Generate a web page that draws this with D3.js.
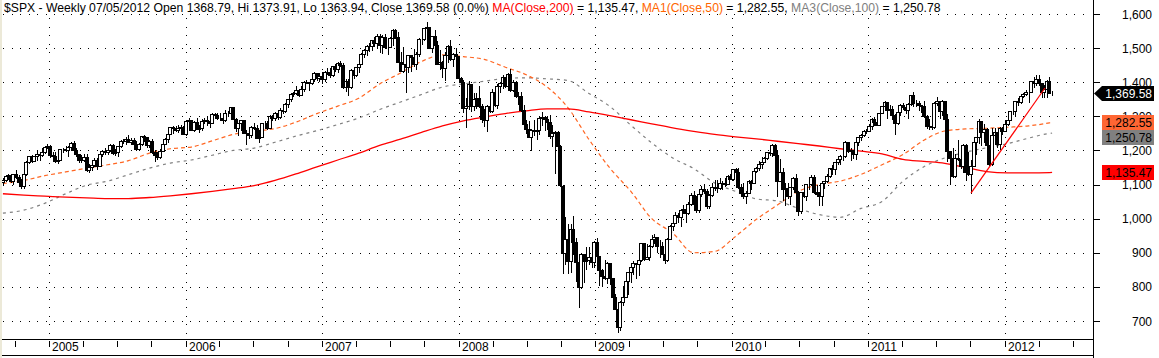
<!DOCTYPE html>
<html><head><meta charset="utf-8">
<script src="https://cdn.jsdelivr.net/npm/d3@7"></script>
<style>
html,body{margin:0;padding:0;background:#fff;overflow:hidden}
svg{display:block;font-family:"Liberation Sans",Arial,sans-serif}
</style></head><body>
<svg id="c" width="1159" height="358"></svg>
<script>
// ---------------- DATA ----------------
const firstWeek = "2004-08-30";   // Monday of the first weekly bar
const opens = [
/*2004*/1108,1114,1124,1129,1110,1132,1122,1108,1096,1130,1166,1184,1170,1183,1191,1188,1194,1210,
/*2005*/1212,1186,1185,1168,1171,1203,1205,1202,1211,1222,1200,1190,1171,1173,1181,1143,1152,1157,1171,1154,1189,1199,1196,1201,1217,1192,1194,1212,1228,1229,1234,1226,1230,1220,1205,1218,1241,1238,1215,1229,1196,1187,1180,1198,1220,1235,1248,1268,1265,1259,1267,1269,
/*2006*/1248,1285,1288,1261,1284,1264,1267,1287,1289,1287,1281,1307,1303,1295,1296,1289,1311,1311,1326,1291,1267,1280,1288,1252,1252,1245,1270,1265,1236,1240,1279,1279,1267,1302,1295,1311,1299,1320,1315,1336,1350,1366,1369,1377,1364,1381,1401,1401,1397,1410,1427,1411,
/*2007*/1418,1410,1431,1431,1422,1448,1438,1456,1451,1387,1403,1387,1436,1421,1444,1453,1484,1494,1506,1506,1523,1516,1536,1508,1533,1503,1503,1530,1553,1534,1459,1433,1454,1446,1479,1474,1454,1484,1526,1527,1558,1562,1501,1535,1510,1454,1459,1441,1481,1505,1468,1484,
/*2008*/1478,1412,1401,1325,1331,1395,1331,1350,1353,1331,1293,1288,1330,1315,1370,1333,1390,1398,1414,1388,1425,1376,1400,1361,1360,1318,1278,1263,1239,1261,1258,1260,1296,1298,1292,1283,1242,1252,1255,1213,1097,899,941,877,969,931,873,800,896,876,880,888,
/*2009*/873,932,890,850,832,826,869,827,770,735,683,757,769,816,843,857,870,866,878,929,883,887,919,940,946,921,919,896,879,940,979,987,1010,1004,1026,1029,1016,1043,1068,1044,1025,1071,1088,1080,1036,1069,1093,1091,1091,1106,1106,1102,1126,
/*2010*/1115,1145,1136,1092,1074,1066,1076,1109,1104,1139,1150,1160,1167,1178,1194,1192,1217,1187,1111,1136,1088,1089,1065,1092,1118,1077,1023,1078,1065,1103,1102,1122,1079,1072,1065,1105,1110,1126,1149,1146,1165,1176,1183,1183,1226,1199,1200,1189,1225,1240,1244,1257,
/*2011*/1258,1272,1293,1283,1276,1311,1329,1343,1320,1321,1304,1279,1314,1332,1328,1320,1337,1364,1340,1338,1333,1331,1300,1271,1272,1268,1340,1344,1316,1345,1292,1199,1179,1124,1177,1174,1154,1216,1136,1131,1155,1225,1238,1285,1253,1264,1216,1159,1244,1255,1220,1265,
/*2012*/1258,1278,1289,1315,1316,1345,1343,1361,1366,1370,1371,1404,1397,1408,1398,1370,1379,1403,1368.79];
const highs = [
/*2004*/1120,1125,1130,1131,1132,1143,1127,1115,1131,1168,1185,1188,1183,1197,1194,1206,1214,1218,
/*2005*/1217,1196,1195,1180,1205,1208,1212,1212,1225,1229,1206,1191,1187,1191,1190,1159,1164,1178,1178,1192,1200,1206,1206,1220,1220,1204,1212,1230,1235,1238,1245,1237,1236,1228,1223,1243,1245,1240,1232,1234,1200,1195,1205,1224,1236,1249,1270,1272,1272,1276,1275,1273,
/*2006*/1290,1295,1289,1286,1295,1274,1293,1295,1300,1290,1310,1310,1310,1310,1300,1318,1316,1327,1326,1296,1280,1290,1290,1260,1258,1272,1280,1274,1260,1280,1287,1286,1304,1303,1312,1315,1323,1330,1340,1350,1367,1372,1389,1381,1389,1403,1407,1402,1416,1430,1428,1427,
/*2007*/1430,1432,1441,1441,1449,1453,1458,1462,1456,1410,1409,1439,1437,1445,1453,1485,1498,1510,1514,1523,1533,1540,1540,1538,1540,1514,1533,1556,1556,1547,1488,1504,1466,1481,1481,1496,1489,1530,1534,1558,1576,1563,1536,1553,1520,1493,1463,1488,1508,1523,1485,1499,
/*2008*/1478,1416,1406,1355,1405,1396,1368,1368,1388,1335,1321,1334,1360,1380,1381,1395,1400,1422,1416,1426,1440,1406,1405,1370,1370,1334,1290,1285,1263,1290,1284,1297,1314,1300,1301,1304,1274,1256,1256,1215,1098,1006,985,984,1007,943,873,897,897,918,918,888,
/*2009*/935,943,891,852,878,872,870,827,780,735,759,803,832,845,857,876,871,888,930,930,925,923,951,956,946,936,931,898,943,980,996,1019,1016,1027,1040,1029,1049,1074,1080,1065,1076,1097,1101,1087,1071,1105,1113,1112,1120,1110,1120,1128,1130,
/*2010*/1146,1150,1150,1103,1105,1081,1112,1112,1140,1151,1169,1181,1181,1195,1214,1218,1220,1197,1174,1148,1104,1105,1092,1121,1131,1080,1078,1100,1103,1120,1129,1129,1100,1077,1105,1111,1131,1149,1158,1167,1184,1186,1197,1227,1226,1207,1200,1225,1240,1247,1259,1263,
/*2011*/1277,1294,1297,1302,1311,1330,1345,1343,1333,1331,1306,1315,1337,1339,1329,1339,1364,1371,1348,1346,1334,1346,1303,1293,1298,1341,1356,1344,1347,1346,1307,1199,1208,1190,1230,1204,1220,1220,1195,1171,1225,1239,1293,1285,1277,1266,1216,1265,1267,1255,1268,1270,
/*2012*/1285,1297,1316,1333,1346,1354,1363,1368,1378,1374,1405,1414,1420,1422,1398,1392,1407,1415,1373.91];
const lows = [
/*2004*/1099,1110,1117,1108,1102,1120,1104,1090,1090,1127,1162,1167,1168,1173,1173,1185,1193,1206,
/*2005*/1180,1176,1167,1164,1171,1195,1198,1184,1200,1198,1185,1167,1166,1169,1141,1137,1143,1154,1147,1154,1185,1190,1191,1198,1190,1188,1184,1210,1222,1220,1224,1218,1216,1200,1201,1216,1228,1211,1210,1192,1169,1174,1178,1197,1218,1226,1247,1250,1256,1255,1257,1247,
/*2006*/1246,1282,1260,1258,1262,1253,1260,1280,1275,1268,1279,1296,1291,1290,1280,1285,1300,1304,1291,1256,1245,1260,1250,1219,1237,1238,1262,1236,1225,1238,1266,1262,1266,1288,1290,1291,1296,1309,1314,1327,1345,1360,1366,1360,1364,1373,1397,1377,1396,1405,1406,1405,
/*2007*/1397,1403,1424,1416,1418,1432,1431,1447,1384,1374,1364,1384,1412,1419,1431,1452,1474,1480,1491,1494,1505,1500,1490,1487,1500,1484,1503,1508,1529,1459,1433,1430,1371,1430,1432,1449,1439,1477,1513,1525,1546,1500,1490,1500,1453,1438,1416,1406,1460,1466,1447,1469,
/*2008*/1411,1370,1313,1270,1322,1316,1320,1324,1326,1283,1271,1257,1312,1313,1331,1324,1370,1384,1386,1386,1374,1374,1358,1335,1316,1275,1252,1238,1200,1245,1235,1247,1274,1261,1263,1236,1212,1133,1197,1097,840,866,840,845,897,818,741,798,815,851,867,857,
/*2009*/857,889,805,804,822,812,808,754,735,667,673,747,769,780,815,839,826,836,876,878,881,880,918,930,903,888,895,869,875,940,966,987,990,978,1016,991,1013,1040,1041,1020,1020,1066,1075,1030,1030,1067,1085,1079,1086,1086,1096,1102,1115,
/*2010*/1114,1132,1090,1071,1061,1045,1076,1086,1104,1136,1144,1150,1165,1175,1186,1185,1180,1066,1111,1056,1041,1060,1043,1088,1071,1011,1018,1063,1056,1088,1102,1076,1069,1040,1039,1091,1107,1122,1131,1132,1160,1160,1171,1181,1194,1173,1178,1174,1217,1232,1243,1250,
/*2011*/1257,1264,1276,1275,1276,1309,1324,1295,1303,1293,1249,1277,1305,1322,1309,1295,1333,1330,1329,1318,1312,1297,1267,1262,1262,1265,1333,1296,1305,1283,1168,1101,1121,1121,1171,1150,1137,1114,1128,1075,1154,1191,1221,1215,1226,1209,1158,1158,1232,1209,1203,1249,
/*2012*/1258,1274,1289,1306,1300,1333,1340,1357,1363,1341,1370,1385,1391,1392,1358,1358,1358,1368,1363.94];
const closes = [
/*2004*/1114,1124,1129,1110,1132,1122,1108,1096,1130,1166,1184,1170,1183,1191,1188,1194,1210,1212,
/*2005*/1186,1185,1168,1171,1203,1205,1202,1211,1222,1200,1190,1171,1173,1181,1143,1152,1157,1171,1154,1189,1199,1196,1201,1217,1192,1194,1212,1228,1229,1234,1226,1230,1220,1205,1218,1241,1238,1215,1229,1196,1187,1180,1198,1220,1235,1248,1268,1265,1259,1267,1269,1248,
/*2006*/1285,1288,1261,1284,1264,1267,1287,1289,1287,1281,1307,1303,1295,1296,1289,1311,1311,1326,1291,1267,1280,1288,1252,1252,1245,1270,1265,1236,1240,1279,1279,1267,1302,1295,1311,1299,1320,1315,1336,1350,1366,1369,1377,1364,1381,1401,1401,1397,1410,1427,1411,1418,
/*2007*/1410,1431,1431,1422,1448,1438,1456,1451,1387,1403,1387,1436,1421,1444,1453,1484,1494,1506,1506,1523,1516,1536,1508,1533,1503,1503,1530,1553,1534,1459,1433,1454,1446,1479,1474,1454,1484,1526,1527,1558,1562,1501,1535,1510,1454,1459,1441,1481,1505,1468,1484,1478,
/*2008*/1412,1401,1325,1331,1395,1331,1350,1353,1331,1293,1288,1330,1315,1370,1333,1390,1398,1414,1388,1425,1376,1400,1361,1360,1318,1278,1263,1239,1261,1258,1260,1296,1298,1292,1283,1242,1252,1255,1213,1099,899,941,877,969,931,873,800,896,876,880,888,873,
/*2009*/932,890,850,832,826,869,827,770,735,683,757,769,816,843,857,870,866,878,929,883,887,919,940,946,921,919,896,879,940,979,987,1010,1004,1026,1029,1016,1043,1068,1044,1025,1071,1088,1080,1036,1069,1093,1091,1091,1106,1106,1102,1126,1115,
/*2010*/1145,1136,1092,1074,1066,1076,1109,1104,1139,1150,1160,1167,1178,1194,1192,1217,1187,1111,1136,1088,1089,1065,1092,1118,1077,1023,1078,1065,1103,1102,1122,1079,1072,1065,1105,1110,1126,1149,1146,1165,1176,1183,1183,1226,1199,1200,1189,1225,1240,1244,1257,1258,
/*2011*/1272,1293,1283,1276,1311,1329,1343,1320,1321,1304,1279,1314,1332,1328,1320,1337,1364,1340,1338,1333,1331,1300,1271,1272,1268,1340,1344,1316,1345,1292,1199,1179,1124,1177,1174,1154,1216,1136,1131,1155,1225,1238,1285,1253,1264,1216,1159,1244,1255,1220,1265,1258,
/*2012*/1278,1289,1315,1316,1345,1343,1361,1366,1370,1371,1404,1397,1408,1398,1370,1379,1403,1369,1369.58];

const maWeeks = [0,8,16,24,32,40,48,56,64,72,80,88,96,104,112,120,128,136,144,152,160,168,176,184,192,200,208,216,224,232,240,248,256,264,272,280,288,296,304,312,320,328,336,344,352,360,368,376,384,392,400,401];
const ma200 = [1073,1069,1066,1063,1061,1059,1059,1062,1067,1073,1080,1088,1097,1112,1131,1152,1172,1192,1215,1233,1253,1272,1287,1298,1308,1316,1322,1322,1313,1302,1290,1278,1266,1256,1247,1240,1234,1227,1220,1213,1205,1198,1190,1174,1168,1162,1150,1138,1134,1134,1135,1135.47];
const ma50  = [1103,1112,1126,1137,1148,1158,1170,1192,1205,1210,1228,1247,1257,1264,1283,1308,1330,1353,1395,1427,1461,1480,1475,1467,1444,1422,1386,1325,1232,1148,1080,1000,958,900,904,948,998,1040,1080,1100,1110,1130,1158,1188,1230,1257,1263,1265,1268,1272,1281,1282.55];
const ma100 = [1016,1025,1045,1073,1098,1110,1129,1148,1163,1172,1186,1200,1207,1224,1242,1258,1276,1295,1320,1342,1364,1386,1395,1403,1411,1413,1410,1405,1367,1329,1274,1222,1178,1147,1105,1080,1058,1052,1030,1012,1004,1030,1050,1110,1152,1178,1195,1208,1220,1236,1250,1250.78];

// trend line drawn on the chart (date, price)
const trendDates  = ["2011-10-03","2012-04-18"];
const trendValues = [1075,1383];

const yTicks = [700,800,900,1000,1100,1200,1300,1400,1500,1600];
const titleParts = [
  ["$SPX - Weekly 07/05/2012 Open 1368.79, Hi 1373.91, Lo 1363.94, Close 1369.58 (0.0%) ","#000"],
  ["MA(Close,200)","#ff0000"],[" = 1,135.47, ","#000"],
  ["MA1(Close,50)","#ff6600"],[" = 1,282.55, ","#000"],
  ["MA3(Close,100)","#808080"],[" = 1,250.78","#000"]];
const lastLabels = [
  {text:"1,369.58", value:1369.58, bg:"#000", fg:"#fff", arrow:true},
  {text:"1,282.55", value:1282.55, bg:"#ff6633", fg:"#000"},
  {text:"1,250.78", value:1250.78, bg:"#808080", fg:"#000"},
  {text:"1,135.47", value:1135.47, bg:"#ff0000", fg:"#000"}];

// ---------------- CHART ----------------
const svg = d3.select("#c");
const parse = d3.timeParse("%Y-%m-%d");
const start = parse(firstWeek);
const n = closes.length;
if (opens.length!==n||highs.length!==n||lows.length!==n) {
  svg.append("text").attr("x",300).attr("y",200).attr("fill","red").text("LENGTH MISMATCH "+[opens.length,highs.length,lows.length,n]);
}
const weekDate = i => d3.timeDay.offset(start, 7*i);
const bars = d3.range(n).map(i=>({date:weekDate(i),o:opens[i],h:highs[i],l:lows[i],c:closes[i]}));

const plotR = 1093, axisY = 339;
const x = d3.scaleTime().domain([parse("2005-01-03"), parse("2012-01-02")]).range([50,1005]);
const y = d3.scaleLinear().domain([700,1600]).range([321,14]);

svg.append("rect").attr("width",1159).attr("height",358).attr("fill","#fff");
svg.append("defs").append("clipPath").attr("id","clip").append("rect")
  .attr("x",0).attr("y",0).attr("width",plotR).attr("height",axisY);

// horizontal dotted grid
svg.append("g").selectAll("line").data(yTicks).join("line")
  .attr("x1",3).attr("x2",plotR-3)
  .attr("y1",d=>Math.round(y(d))+0.5).attr("y2",d=>Math.round(y(d))+0.5)
  .attr("stroke","#000").attr("stroke-dasharray","1,7.5").attr("shape-rendering","crispEdges");

// time ticks
const [d0,d1] = [x.invert(0), x.invert(plotR)];
const quarters = d3.timeMonth.every(3).range(d0,d1);
const years = d3.timeYear.range(d0,d1);
svg.append("g").selectAll("line").data(years).join("line")
  .attr("x1",d=>Math.round(x(d))+0.5).attr("x2",d=>Math.round(x(d))+0.5)
  .attr("y1",18).attr("y2",axisY)
  .attr("stroke","#000").attr("stroke-dasharray","1,7.5").attr("shape-rendering","crispEdges");

// MA lines
const maLine = vals => d3.line().curve(d3.curveMonotoneX)
  .x((d,i)=>x(weekDate(maWeeks[i]))).y(d=>y(d))(vals);
const gp = svg.append("g").attr("clip-path","url(#clip)");
gp.append("path").attr("d",maLine(ma100)).attr("fill","none").attr("stroke","#808080").attr("stroke-width",1.2).attr("stroke-dasharray","3,4");
gp.append("path").attr("d",maLine(ma50)).attr("fill","none").attr("stroke","#ff6622").attr("stroke-width",1.2).attr("stroke-dasharray","4,3");
gp.append("path").attr("d",maLine(ma200)).attr("fill","none").attr("stroke","#ff0000").attr("stroke-width",1.3);

// candles
const cg = gp.append("g").selectAll("g").data(bars).join("g");
cg.append("line")
  .attr("x1",d=>Math.round(x(d.date))+0.5).attr("x2",d=>Math.round(x(d.date))+0.5)
  .attr("y1",d=>Math.round(y(d.h))).attr("y2",d=>Math.round(y(d.l))+1)
  .attr("stroke","#000").attr("shape-rendering","crispEdges");
cg.append("rect")
  .attr("x",d=>Math.round(x(d.date))-1.5).attr("width",3)
  .attr("y",d=>Math.round(y(Math.max(d.o,d.c)))+0.5)
  .attr("height",d=>Math.max(0,Math.round(y(Math.min(d.o,d.c)))-Math.round(y(Math.max(d.o,d.c)))))
  .attr("fill",d=>d.c>=d.o?"#fff":"#000").attr("stroke","#000").attr("shape-rendering","crispEdges");

// trend line
gp.append("line")
  .attr("x1",x(parse(trendDates[0]))).attr("y1",y(trendValues[0]))
  .attr("x2",x(parse(trendDates[1]))).attr("y2",y(trendValues[1]))
  .attr("stroke","#ff0000").attr("stroke-width",1.2);

// bottom axis
svg.append("line").attr("x1",0).attr("x2",plotR).attr("y1",axisY+0.5).attr("y2",axisY+0.5).attr("stroke","#000");
svg.append("line").attr("x1",0).attr("x2",plotR).attr("y1",355.5).attr("y2",355.5).attr("stroke","#000");
svg.append("g").selectAll("line").data(quarters).join("line")
  .attr("x1",d=>Math.round(x(d))+0.5).attr("x2",d=>Math.round(x(d))+0.5)
  .attr("y1",341).attr("y2",347).attr("stroke","#000").attr("shape-rendering","crispEdges");
const yl = svg.append("g").selectAll("g").data(years).join("g");
yl.append("rect").attr("x",d=>Math.round(x(d))+2).attr("y",341).attr("width",29).attr("height",12).attr("fill","#fff");
yl.append("text").attr("x",d=>Math.round(x(d))+3).attr("y",351).attr("font-size",12).text(d3.timeFormat("%Y"));

// right axis
svg.append("line").attr("x1",plotR+0.5).attr("x2",plotR+0.5).attr("y1",0).attr("y2",358).attr("stroke","#000");
svg.append("g").selectAll("line").data(yTicks).join("line")
  .attr("x1",plotR+1).attr("x2",plotR+7)
  .attr("y1",d=>Math.round(y(d))+0.5).attr("y2",d=>Math.round(y(d))+0.5).attr("stroke","#000");
svg.append("g").selectAll("text").data(yTicks).join("text")
  .attr("x",1152).attr("y",d=>y(d)+4.5).attr("text-anchor","end").attr("font-size",12)
  .text(d=>d3.format(",")(d));

// last value labels
let prevBottom = -1e9;
lastLabels.map(d=>({...d,cy:y(d.value)})).sort((a,b)=>a.cy-b.cy).forEach(d=>{
  let top = Math.max(Math.round(d.cy-7), prevBottom);
  prevBottom = top+15;
  const g = svg.append("g");
  if (d.arrow) {
    const m = top+7.5;
    g.append("path").attr("d",`M${plotR+1},${m} L${plotR+9},${top} L1154,${top} L1154,${top+15} L${plotR+9},${top+15} Z`).attr("fill",d.bg);
  } else {
    g.append("rect").attr("x",1102).attr("y",top).attr("width",52).attr("height",15).attr("fill",d.bg);
  }
  g.append("text").attr("x",1152).attr("y",top+11.5).attr("text-anchor","end").attr("font-size",12).attr("fill",d.fg).text(d.text);
});

// title
const t = svg.append("text").attr("x",4).attr("y",12).attr("font-size",12.2).style("white-space","pre");
titleParts.forEach(p=>t.append("tspan").attr("fill",p[1]).text(p[0]));

// window edges
svg.append("rect").attr("x",0).attr("y",0).attr("width",2).attr("height",358).attr("fill","#ece9d8");
</script>
</body></html>
